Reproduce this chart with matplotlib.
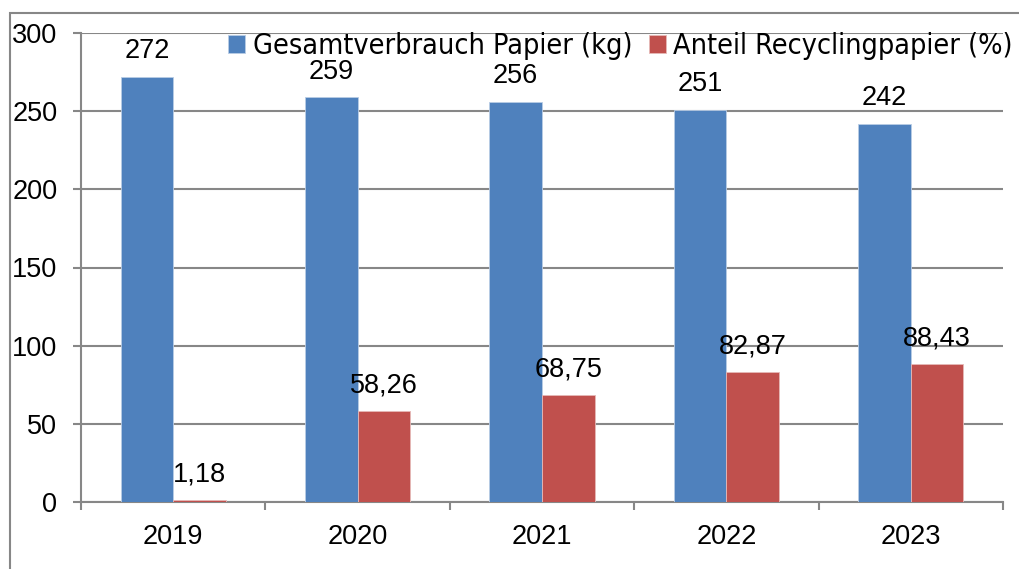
import numpy as np
import matplotlib.pyplot as plt
from matplotlib.patches import Rectangle

years = ["2019", "2020", "2021", "2022", "2023"]
gesamt = [272, 259, 256, 251, 242]
recycling = [1.18, 58.26, 68.75, 82.87, 88.43]
gesamt_labels = ["272", "259", "256", "251", "242"]
recycling_labels = ["1,18", "58,26", "68,75", "82,87", "88,43"]

blue = "#4F81BD"
red = "#C0504D"
grey = "#878787"

plt.rcParams['font.family'] = ['Liberation Sans', 'DejaVu Sans']

fig = plt.figure(figsize=(10.19, 5.69), dpi=100)
# outer chart frame (only left and top edges visible)
fig.patches.append(Rectangle((10/1019, -0.1), 1.2, 1 - 12.5/569 + 0.1,
                             transform=fig.transFigure, fill=False,
                             edgecolor=grey, linewidth=1.5))
ax = fig.add_axes([81/1019, 1 - 502/569, 922/1019, 469/569])

x = np.arange(len(years))
w = 0.285
ax.bar(x - w/2, gesamt, w, color=blue, edgecolor="#B9CDE5", linewidth=0.6,
       label="Gesamtverbrauch Papier (kg)", zorder=3)
ax.bar(x + w/2, recycling, w, color=red, edgecolor="#E6B9B8", linewidth=0.6,
       label="Anteil Recyclingpapier (%)", zorder=3)

for i in range(len(years)):
    ax.annotate(gesamt_labels[i], (x[i] - w/2, gesamt[i]), xytext=(0, 9),
                textcoords="offset points", ha="center", va="bottom", fontsize=19.5)
    ax.annotate(recycling_labels[i], (x[i] + w/2, recycling[i]), xytext=(0, 9),
                textcoords="offset points", ha="center", va="bottom", fontsize=19.5)

ax.set_xlim(-0.5, len(years) - 0.5)
ax.set_ylim(0, 300)
ax.set_yticks(np.arange(0, 301, 50))
ax.set_xticks(x)
ax.set_xticklabels(years, fontsize=19.5)
ax.set_xticks(np.arange(-0.5, len(years), 1), minor=True)
ax.tick_params(axis="x", which="major", length=0, pad=16)
ax.tick_params(axis="x", which="minor", length=6, width=1.5, color=grey, direction="out")
ax.tick_params(axis="y", length=6, width=1.5, color=grey, labelsize=19.5, pad=11)
ax.grid(axis="y", color=grey, linewidth=1.5, zorder=0)
ax.set_axisbelow(True)
for s in ["top", "right"]:
    ax.spines[s].set_visible(False)
for s in ["left", "bottom"]:
    ax.spines[s].set_color(grey)
    ax.spines[s].set_linewidth(1.5)

ax.legend(loc="center right", bbox_to_anchor=(1013/1019, 1 - 46/569),
          bbox_transform=fig.transFigure, ncol=2, frameon=False,
          prop={"family": "DejaVu Sans", "stretch": "condensed", "size": 20.6},
          handlelength=0.6, handleheight=0.6, handletextpad=0.25, columnspacing=0.6,
          borderaxespad=0, borderpad=0)

plt.savefig("out.png", dpi=100)
